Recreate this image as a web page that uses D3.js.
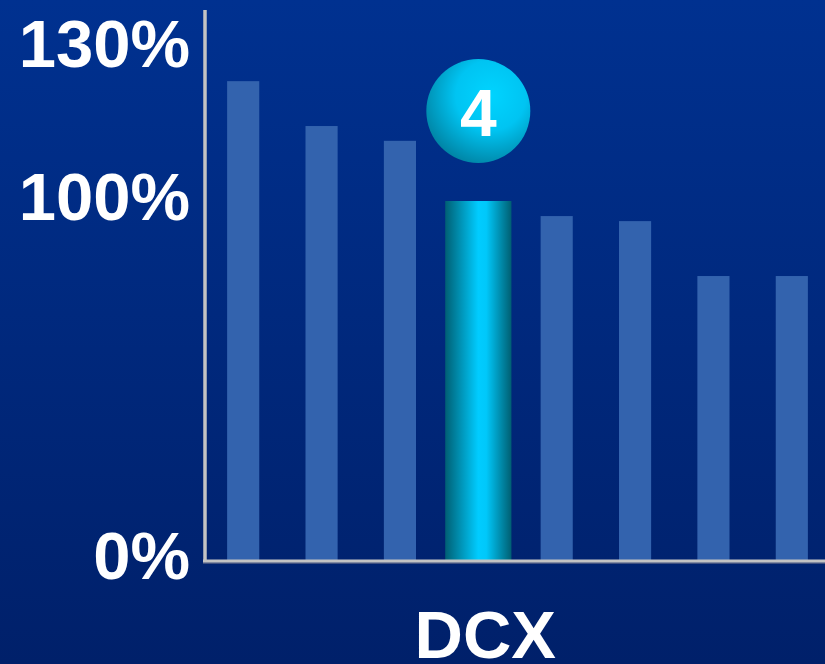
<!DOCTYPE html>
<html>
<head>
<meta charset="utf-8">
<script src="https://cdn.jsdelivr.net/npm/d3@7"></script>
<style>
  html, body { margin: 0; padding: 0; background: #002068; }
  svg { display: block; }
</style>
</head>
<body>
<div id="chart"></div>
<script>
// Chart data
var categories = ["A", "B", "C", "DCX", "E", "F", "G", "H"];
var values = [123.5, 114.7, 111.8, 100, 95.8, 94.4, 79.1, 79.1];
var highlight = "DCX";
var highlightRank = "4";
var tickValues = [0, 100, 130];
var tickLabels = ["0%", "100%", "130%"];
var xLabel = "DCX";

var svgWidth = 825;
var svgHeight = 664;

var svg = d3.select("#chart")
  .append("svg")
  .attr("width", svgWidth)
  .attr("height", svgHeight);

var defs = svg.append("defs");

// background gradient
var bg = defs.append("linearGradient")
  .attr("id", "bg")
  .attr("x1", 0).attr("y1", 0).attr("x2", 0).attr("y2", 1);
bg.append("stop").attr("offset", "0").attr("stop-color", "#003190");
bg.append("stop").attr("offset", "1").attr("stop-color", "#00206a");

// highlighted bar gradient (horizontal)
var hb = defs.append("linearGradient")
  .attr("id", "hbar")
  .attr("x1", 0).attr("y1", 0).attr("x2", 1).attr("y2", 0);
hb.append("stop").attr("offset", "0").attr("stop-color", "#006074");
hb.append("stop").attr("offset", "0.5").attr("stop-color", "#00ccff");
hb.append("stop").attr("offset", "0.62").attr("stop-color", "#00c8fa");
hb.append("stop").attr("offset", "1").attr("stop-color", "#005f72");

// bubble gradient
var bub = defs.append("radialGradient")
  .attr("id", "bubble")
  .attr("cx", "0.62").attr("cy", "0.35").attr("r", "0.75");
bub.append("stop").attr("offset", "0").attr("stop-color", "#00d4ff");
bub.append("stop").attr("offset", "0.45").attr("stop-color", "#00c4f2");
bub.append("stop").attr("offset", "1").attr("stop-color", "#007a98");

svg.append("rect")
  .attr("width", svgWidth)
  .attr("height", svgHeight)
  .attr("fill", "url(#bg)");

// scales
var xScale = d3.scaleBand()
  .domain(categories)
  .range([204, 831])
  .paddingInner(0.59)
  .paddingOuter(0.295);

// broken axis: 0-100 takes most of the height, 100-130 squeezed on top
var yScale = d3.scaleLinear()
  .domain([0, 100, 130])
  .range([560, 201, 48]);

// bars
svg.selectAll(".bar")
  .data(categories)
  .enter()
  .append("rect")
  .attr("class", "bar")
  .attr("x", function (d) {
    var c = xScale(d) + xScale.bandwidth() / 2;
    return d === highlight ? c - xScale.bandwidth() * 1.03 : xScale(d);
  })
  .attr("width", d => d === highlight ? xScale.bandwidth() * 2.06 : xScale.bandwidth())
  .attr("y", (d, i) => yScale(values[i]))
  .attr("height", (d, i) => yScale(0) - yScale(values[i]))
  .attr("fill", d => d === highlight ? "url(#hbar)" : "#3363ae");

// axes lines
svg.append("line")
  .attr("x1", 205).attr("x2", 205)
  .attr("y1", 10).attr("y2", 561)
  .attr("stroke", "#c3c3c3")
  .attr("stroke-width", 3.5);
svg.append("line")
  .attr("x1", 203).attr("x2", svgWidth)
  .attr("y1", 563).attr("y2", 563)
  .attr("stroke", "#7f7f8f")
  .attr("stroke-width", 1);
svg.append("line")
  .attr("x1", 203).attr("x2", svgWidth)
  .attr("y1", 561).attr("y2", 561)
  .attr("stroke", "#c3c3c3")
  .attr("stroke-width", 3);

// y axis labels
var leftAxis = d3.axisLeft(yScale)
  .tickValues(tickValues)
  .tickFormat((d, i) => tickLabels[i])
  .tickSize(0)
  .tickPadding(15);

var yAxis = svg.append("g")
  .attr("transform", "translate(205,0)")
  .call(leftAxis);
yAxis.select(".domain").remove();
yAxis.selectAll("text")
  .attr("fill", "#ffffff")
  .attr("dy", "0.28em")
  .style("font-family", "'Liberation Sans', Arial, sans-serif")
  .style("font-weight", "bold")
  .style("font-size", "67px");

// x label
var hiCenter = xScale(highlight) + xScale.bandwidth() / 2;
svg.append("text")
  .attr("x", hiCenter + 7)
  .attr("y", 658)
  .attr("text-anchor", "middle")
  .attr("fill", "#ffffff")
  .style("font-family", "'Liberation Sans', Arial, sans-serif")
  .style("font-weight", "bold")
  .style("font-size", "67px")
  .text(xLabel);

// rank bubble above the highlighted bar
svg.append("circle")
  .attr("cx", hiCenter)
  .attr("cy", yScale(values[categories.indexOf(highlight)]) - 90)
  .attr("r", 52)
  .attr("fill", "url(#bubble)");
svg.append("text")
  .attr("x", hiCenter)
  .attr("y", yScale(values[categories.indexOf(highlight)]) - 65)
  .attr("text-anchor", "middle")
  .attr("fill", "#ffffff")
  .style("font-family", "'Liberation Sans', Arial, sans-serif")
  .style("font-weight", "bold")
  .style("font-size", "66px")
  .text(highlightRank);
</script>
</body>
</html>
